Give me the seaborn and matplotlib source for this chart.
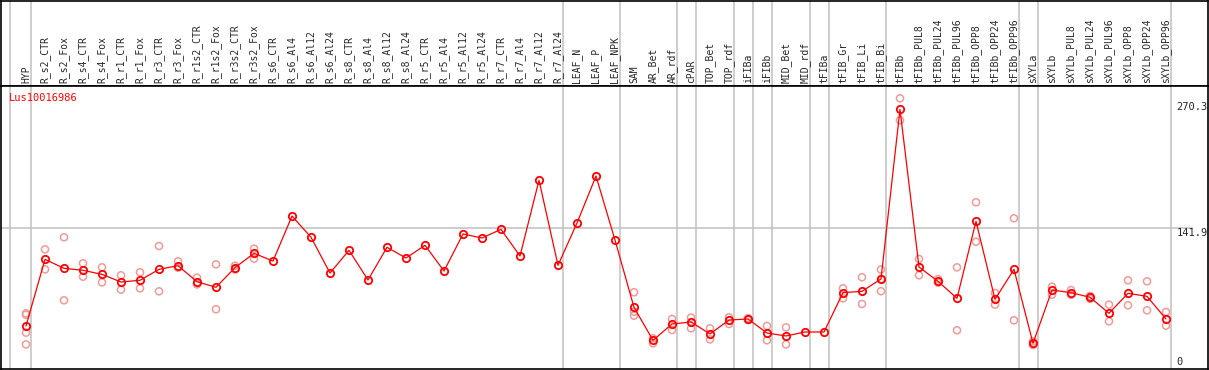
import numpy as np
import pandas as pd
import seaborn as sns
import matplotlib.pyplot as plt

samples = ["HYP", "R_s2_CTR", "R_s2_Fox", "R_s4_CTR", "R_s4_Fox", "R_r1_CTR", "R_r1_Fox",
           "R_r3_CTR", "R_r3_Fox", "R_r1s2_CTR", "R_r1s2_Fox", "R_r3s2_CTR", "R_r3s2_Fox",
           "R_s6_CTR", "R_s6_Al4", "R_s6_Al12", "R_s6_Al24", "R_s8_CTR", "R_s8_Al4", "R_s8_Al12",
           "R_s8_Al24", "R_r5_CTR", "R_r5_Al4", "R_r5_Al12", "R_r5_Al24", "R_r7_CTR", "R_r7_Al4",
           "R_r7_Al12", "R_r7_Al24", "LEAF_N", "LEAF_P", "LEAF_NPK", "SAM", "AR_Bet", "AR_rdf",
           "cPAR", "TOP_Bet", "TOP_rdf", "iFIBa", "iFIBb", "MID_Bet", "MID_rdf", "tFIBa",
           "tFIB_Gr", "tFIB_Li", "tFIB_Bi", "tFIBb", "tFIBb_PUL8", "tFIBb_PUL24", "tFIBb_PUL96",
           "tFIBb_OPP8", "tFIBb_OPP24", "tFIBb_OPP96", "sXYLa", "sXYLb", "sXYLb_PUL8",
           "sXYLb_PUL24", "sXYLb_PUL96", "sXYLb_OPP8", "sXYLb_OPP24", "sXYLb_OPP96"]

means = [38.2, 108.8, 99.3, 97.2, 92.9, 84.8, 86.6, 98.2, 102.1, 85.1, 79.2, 100.0, 115.2,
         107.0, 154.7, 132.2, 94.3, 118.4, 86.9, 121.6, 110.2, 123.7, 96.4, 135.7, 131.4,
         140.6, 112.3, 192.6, 102.5, 147.3, 197.1, 129.3, 57.9, 23.0, 40.3, 42.4, 29.7, 44.5,
         45.6, 30.7, 27.6, 31.8, 31.8, 73.5, 74.9, 88.0, 267.8, 100.7, 85.5, 67.5, 149.1,
         66.4, 98.2, 19.8, 76.3, 73.5, 68.6, 51.6, 72.8, 69.6, 45.6]

replicates = [[51.6, 50.1, 31.1, 18.7], [119.4, 98.2], [132.2, 65.4], [104.6, 90.4],
              [100.3, 84.4], [91.9, 76.7], [95.1, 78.1], [122.9, 74.9], [106.7, 100.0],
              [89.4, 82.3], [103.5, 55.9], [102.0, 98.0], [120.1, 109.5], [], [], [], [],
              [], [], [], [], [], [], [], [], [], [], [], [], [], [], [],
              [73.9, 53.3, 49.1], [25.1, 19.8], [45.6, 33.9], [47.0, 35.7], [35.7, 24.0],
              [47.4, 40.3], [46.5, 44.5], [38.2, 23.0], [36.7, 18.7], [], [],
              [78.1, 67.5], [89.8, 61.5], [98.0, 88.0, 75.0], [279.5, 256.2], [109.2, 91.9],
              [87.9, 84.1], [100.3, 33.6], [169.3, 127.5], [73.1, 60.8], [152.3, 44.2],
              [21.9, 18.0], [79.8, 71.3], [76.3, 71.3], [70.0, 67.0], [60.8, 43.1],
              [86.6, 60.1], [85.5, 54.8], [53.0, 38.5]]

group_ends = [0, 28, 31, 34, 35, 37, 38, 39, 41, 42, 45, 52, 53, 60]
y_ticks = [270.3, 141.9, 0]

main_df = pd.DataFrame({"pos": np.arange(len(samples)), "value": means})
rep_df = pd.DataFrame([(i, v) for i, r in enumerate(replicates) for v in r],
                      columns=["pos", "value"])

sns.set_style("white")
plt.rcParams["font.family"] = ["DejaVu Sans Mono"]

W, H = 1209, 370
fig = plt.figure(figsize=(W / 100, H / 100), dpi=100)
xl = ((1 - 26) / 19, (1208 - 26) / 19)
ax_h = fig.add_axes([1 / W, (H - 86) / H, 1207 / W, 85 / H])
ax = fig.add_axes([1 / W, 1 / H, 1207 / W, 283 / H])

grey = "#c0c0c0"
for a in (ax_h, ax):
    a.set_xlim(*xl)
    a.set_xticks([])
    a.set_yticks([])
    for s in a.spines.values():
        s.set_color("black")
        s.set_linewidth(1.2)
    a.axvline(-0.83, color=grey, lw=1.1, zorder=0)
    for g in group_ends:
        a.axvline(g + 0.24, color=grey, lw=1.1, zorder=0)

ax.set_ylim((362 - 369) / 0.9435, (362 - 86) / 0.9435)
ax.hlines(141.9, xl[0], 61.4, color=grey, lw=1.1, zorder=0)

# replicate points behind, mean line on top
sns.scatterplot(data=rep_df, x="pos", y="value", ax=ax, marker="o", s=26,
                facecolor="none", edgecolor="#f09a9a", linewidth=1.1, zorder=2)
sns.lineplot(data=main_df, x="pos", y="value", ax=ax, color="red", lw=0.9,
             marker="o", markersize=5.3, markerfacecolor="none", markeredgecolor="red",
             markeredgewidth=1.3, zorder=3)
ax.set_xlabel("")
ax.set_ylabel("")

ax.text(8 / 1207, 0.975, "Lus10016986", transform=ax.transAxes, color="red",
        fontsize=7.5, ha="left", va="top")
for t in y_ticks:
    ax.text(60.55, t, f"{t:g}", fontsize=7.5, ha="left",
            va="top" if t == 141.9 else "center")

ax_h.set_ylim(0, 1)
for i, name in enumerate(samples):
    ax_h.text(i, 0.035, name, rotation=90, fontsize=7, ha="center", va="bottom")

fig.savefig("out.png", dpi=100)
